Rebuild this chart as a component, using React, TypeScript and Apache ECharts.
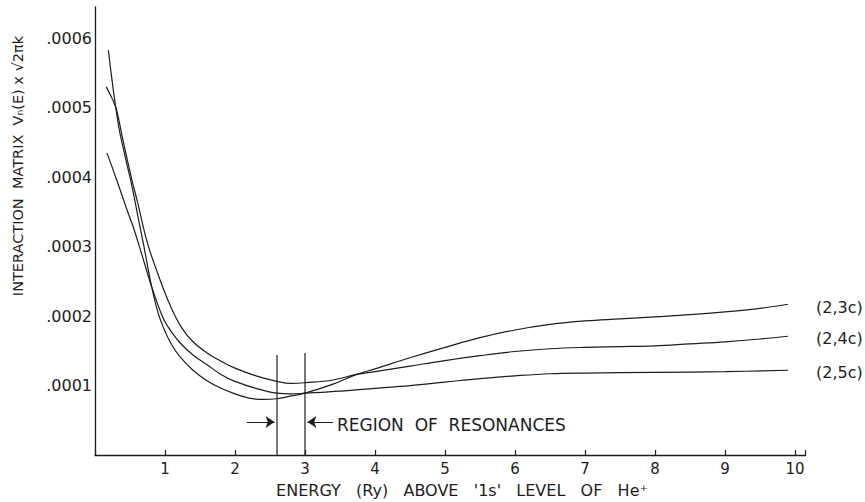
import React, { useEffect, useRef } from 'react';
import * as echarts from 'echarts';

// Energy (Ry) above the 1s level of He+, and interaction matrix in units of 1e-4
const x23 = [0.19, 0.33, 0.43, 0.53, 0.61, 0.69, 0.81, 0.9, 1.0, 1.1, 1.21, 1.4, 1.6, 1.8, 2.0, 2.2, 2.4, 2.6, 2.8, 3.0, 3.4, 3.74, 4.0, 4.5, 5.0, 5.5, 6.0, 6.5, 7.0, 7.5, 8.0, 8.5, 9.0, 9.5, 9.9];
const y23 = [5.83, 4.78, 4.30, 3.86, 3.45, 3.05, 2.42, 2.05, 1.78, 1.58, 1.42, 1.22, 1.07, 0.96, 0.88, 0.82, 0.80, 0.81, 0.85, 0.89, 1.02, 1.16, 1.24, 1.40, 1.55, 1.69, 1.80, 1.88, 1.93, 1.96, 1.99, 2.02, 2.06, 2.11, 2.17];

const x24 = [0.16, 0.25, 0.31, 0.40, 0.53, 0.61, 0.75, 0.93, 1.08, 1.24, 1.4, 1.6, 1.8, 2.0, 2.3, 2.6, 2.8, 3.0, 3.4, 3.74, 4.0, 4.5, 5.0, 5.5, 6.0, 6.5, 7.0, 7.5, 8.0, 8.5, 9.0, 9.5, 9.9];
const y24 = [5.30, 5.12, 4.96, 4.53, 3.95, 3.63, 3.05, 2.52, 2.14, 1.83, 1.63, 1.47, 1.35, 1.25, 1.14, 1.06, 1.03, 1.04, 1.08, 1.16, 1.20, 1.28, 1.36, 1.43, 1.49, 1.53, 1.55, 1.56, 1.57, 1.60, 1.63, 1.67, 1.71];

const x25 = [0.17, 0.31, 0.45, 0.54, 0.65, 0.81, 0.96, 1.04, 1.21, 1.4, 1.6, 1.8, 2.0, 2.3, 2.6, 2.8, 3.0, 3.5, 4.0, 4.5, 5.0, 5.5, 6.0, 6.5, 7.0, 8.0, 9.0, 9.9];
const y25 = [4.35, 3.96, 3.55, 3.30, 2.95, 2.42, 2.00, 1.85, 1.62, 1.44, 1.30, 1.16, 1.06, 0.96, 0.89, 0.88, 0.89, 0.92, 0.96, 1.00, 1.05, 1.10, 1.14, 1.17, 1.18, 1.19, 1.20, 1.22];

const curveNames = ['(2,3c)', '(2,4c)', '(2,5c)'];

// Region of resonances
const resX = [2.6, 3.0];
const resTop = [1.44, 1.47];
const arrowY = 0.475;
const arrowLeftFrom = 2.17;
const arrowRightFrom = 3.4;

const yTickLabels = ['.0001', '.0002', '.0003', '.0004', '.0005', '.0006'];
const xTickLabels = ['1', '2', '3', '4', '5', '6', '7', '8', '9', '10'];

const yTitle = 'INTERACTION  MATRIX  Vₙ(E) x √2πk';
const xTitle = "ENERGY   (Ry)   ABOVE   '1s'   LEVEL   OF   He⁺";
const regionText = 'REGION  OF  RESONANCES';

export default function App() {
  const ref = useRef<HTMLDivElement>(null);

  useEffect(() => {
    if (!ref.current) return;
    const chart = echarts.init(ref.current, null, { renderer: 'svg' });
    const font = 'DejaVu Sans';
    const ink = '#1d1d1d';

    const pairs = (xs: number[], ys: number[]) => xs.map((x, i) => [x, ys[i]]);
    const curves = [
      [x23, y23, 3],
      [x24, y24, 2],
      [x25, y25, 2],
    ].map(([xs, ys, dy], i) => ({
      type: 'line',
      name: curveNames[i],
      data: pairs(xs as number[], ys as number[]),
      showSymbol: false,
      symbol: 'none',
      smooth: 0.4,
      silent: true,
      lineStyle: { color: ink, width: 1.2 },
      endLabel: {
        show: true,
        formatter: curveNames[i],
        offset: [20, dy as number],
        color: ink,
        fontFamily: font,
        fontSize: 16,
      },
      z: 3,
    }));

    const resLines = resX.map((x, i) => ({
      type: 'line',
      data: [[x, 0], [x, resTop[i]]],
      showSymbol: false,
      symbol: 'none',
      silent: true,
      lineStyle: { color: ink, width: 1.2 },
      z: 2,
    }));

    const arrows = {
      type: 'lines',
      coordinateSystem: 'cartesian2d',
      silent: true,
      symbol: ['none', 'arrow'],
      symbolSize: 9,
      lineStyle: { color: ink, width: 1.2, opacity: 1 },
      itemStyle: { color: ink },
      data: [
        { coords: [[arrowLeftFrom, arrowY], [resX[0] - 0.035, arrowY]] },
        { coords: [[arrowRightFrom, arrowY], [resX[1] + 0.035, arrowY]] },
      ],
      z: 4,
    };

    chart.setOption({
      animation: false,
      backgroundColor: '#ffffff',
      grid: { left: 95, right: 59.5, top: 7, bottom: 47, containLabel: false, outerBoundsMode: 'none' },
      xAxis: {
        type: 'value',
        min: 0,
        max: 10.15,
        interval: 1,
        axisLine: { show: true, onZero: false, lineStyle: { color: ink, width: 1.3 } },
        axisTick: { show: true, inside: true, length: 5, lineStyle: { color: ink, width: 1.2 } },
        axisLabel: {
          color: ink,
          fontFamily: font,
          fontSize: 15,
          margin: 6,
          formatter: (v: number) => {
            const s = String(Math.round(v));
            return Math.abs(v - Math.round(v)) < 1e-9 && xTickLabels.includes(s) ? s : '';
          },
        },
        splitLine: { show: false },
      },
      yAxis: {
        type: 'value',
        min: 0,
        max: 6.45,
        interval: 1,
        axisLine: { show: true, onZero: false, lineStyle: { color: ink, width: 1.3 } },
        axisTick: { show: false },
        axisLabel: {
          color: ink,
          fontFamily: font,
          fontSize: 16,
          margin: 3,
          formatter: (v: number) => {
            const k = Math.round(v);
            if (Math.abs(v - k) > 1e-9 || k < 1) return '';
            return yTickLabels[k - 1] ?? '';
          },
        },
        splitLine: { show: false },
      },
      graphic: [
        {
          type: 'text',
          x: 18,
          y: 166,
          rotation: Math.PI / 2,
          style: {
            text: yTitle,
            fill: ink,
            font: `14.5px "${font}"`,
            textAlign: 'center',
            textVerticalAlign: 'middle',
          },
        },
        {
          type: 'text',
          x: 462,
          y: 490,
          style: {
            text: xTitle,
            fill: ink,
            font: `16px "${font}"`,
            textAlign: 'center',
            textVerticalAlign: 'middle',
          },
        },
        {
          type: 'text',
          x: 337,
          y: 425,
          style: {
            text: regionText,
            fill: ink,
            font: `17px "${font}"`,
            textAlign: 'left',
            textVerticalAlign: 'middle',
          },
        },
      ],
      series: [...curves, ...resLines, arrows],
    });

    return () => chart.dispose();
  }, []);

  return (
    <div
      ref={ref}
      style={{ position: 'fixed', left: 0, top: 0, width: 865, height: 502, background: '#fff' }}
    />
  );
}
